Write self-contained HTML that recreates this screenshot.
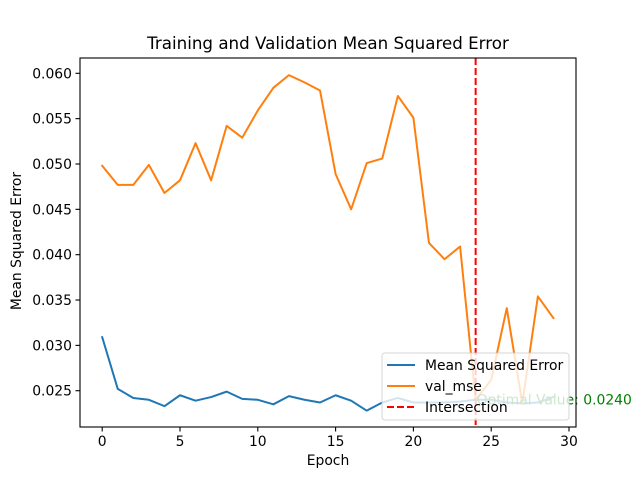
<!DOCTYPE html>
<html><head><meta charset="utf-8"><style>
body{margin:0;background:#fff;}
svg{display:block;font-family:"DejaVu Sans","Liberation Sans",sans-serif;}
</style></head><body>
<svg id="chart" width="640" height="480">
<rect width="640" height="480" fill="#fff"/>
<g id="plot"></g>
</svg>
<script>
const epochs=[0,1,2,3,4,5,6,7,8,9,10,11,12,13,14,15,16,17,18,19,20,21,22,23,24,25,26,27,28,29];
const mseValues=[0.0309,0.0252,0.0242,0.0240,0.0233,0.0245,0.0239,0.0243,0.0249,0.0241,0.0240,0.0235,0.0244,0.0240,0.0237,0.0245,0.0239,0.0228,0.0237,0.0242,0.0237,0.0237,0.0237,0.0238,0.0240,0.0240,0.0237,0.0236,0.0237,0.0243];
const valMseValues=[0.0498,0.0477,0.0477,0.0499,0.0468,0.0482,0.0523,0.0482,0.0542,0.0529,0.0559,0.0584,0.0598,0.0590,0.0581,0.0489,0.0450,0.0501,0.0506,0.0575,0.0551,0.0413,0.0395,0.0409,0.0240,0.0262,0.0341,0.0236,0.0354,0.0330];
const yTicks=[0.025,0.030,0.035,0.040,0.045,0.050,0.055,0.060];
const xTicks=[0,5,10,15,20,25,30];
const intersectionX=24;
const optimalValue=0.0240;

const L=80,R=576,T=58,B=427;
const x0=102.2,xs=(569-102.2)/30;
const X=v=>x0+v*xs;
const Y=v=>73.3+(0.060-v)*9069;
const NS="http://www.w3.org/2000/svg";
const g=document.getElementById('plot');
function mk(tag,attrs,parent){const e=document.createElementNS(NS,tag);for(const k in attrs)e.setAttribute(k,attrs[k]);(parent||g).appendChild(e);return e;}

function line(vals,color,name){
  const p=mk('polyline',{points:vals.map((v,i)=>X(epochs[i])+','+Y(v)).join(' '),fill:'none',stroke:color,'stroke-width':2,'stroke-linejoin':'round','stroke-linecap':'square'});
  
  
}
line(mseValues,'#1f77b4','mse-line');
line(valMseValues,'#ff7f0e','val-mse-line');
const vl=mk('line',{x1:X(intersectionX),x2:X(intersectionX),y1:T,y2:B,stroke:'#ff0000','stroke-width':2,'stroke-dasharray':'7,3'});


const ot=mk('text',{x:X(intersectionX)+1,y:Y(optimalValue)+4.5,fill:'#008000','font-size':13.9});
ot.textContent='Optimal Value: '+optimalValue.toFixed(4);



const fr=mk('rect',{x:L,y:T,width:R-L,height:B-T,fill:'none',stroke:'#000','stroke-width':1.1});



yTicks.forEach(v=>{
  const y=Y(v);
  mk('line',{x1:L-4.5,x2:L,y1:y,y2:y,stroke:'#000','stroke-width':1.1});
  const t=mk('text',{x:L-8,y:y+5,'text-anchor':'end','font-size':13.9,fill:'#000'});
  t.textContent=v.toFixed(3);
  
  
});
xTicks.forEach(v=>{
  const x=X(v);
  mk('line',{x1:x,x2:x,y1:B,y2:B+4.5,stroke:'#000','stroke-width':1.1});
  const t=mk('text',{x:x,y:B+19,'text-anchor':'middle','font-size':13.9,fill:'#000'});
  t.textContent=v;
  
  
});

const lg=mk('g',{});


mk('rect',{x:382,y:353,width:187,height:67,rx:3,fill:'#fff','fill-opacity':0.8,stroke:'#ccc','stroke-opacity':0.8},lg);
const items=[['Mean Squared Error','#1f77b4',false],['val_mse','#ff7f0e',false],['Intersection','#ff0000',true]];
items.forEach((it,i)=>{
  const y=365+i*21;
  const ln=mk('line',{x1:387,x2:415,y1:y,y2:y,stroke:it[1],'stroke-width':2},lg);
  if(it[2])ln.setAttribute('stroke-dasharray','7,3');
  const t=mk('text',{x:425,y:y+5,'font-size':13.9,fill:'#000'},lg);
  t.textContent=it[0];
  
  
});
</script>
<div style="position:absolute;left:0;top:0;width:640px;height:480px;pointer-events:none;">
<div style="position:absolute;left:0;width:656px;top:33px;text-align:center;font:16.7px 'DejaVu Sans','Liberation Sans',sans-serif;">Training and Validation Mean Squared Error</div>
<div style="position:absolute;left:0;width:656px;top:453px;text-align:center;font:13.9px 'DejaVu Sans','Liberation Sans',sans-serif;">Epoch</div>
<div style="position:absolute;left:-83px;top:233px;width:200px;text-align:center;white-space:nowrap;transform:rotate(-90deg);font:13.9px 'DejaVu Sans','Liberation Sans',sans-serif;">Mean Squared Error</div>
</div>
</body></html>
